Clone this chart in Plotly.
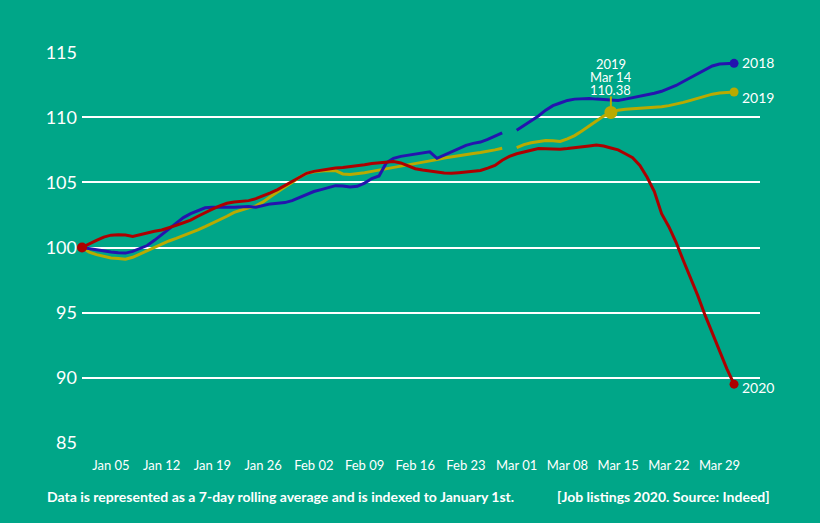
import pandas as pd
import plotly.graph_objects as go

# daily index values, Jan 01 .. Mar 31 (None = Feb 29 missing in non-leap years)
dates = pd.date_range("2020-01-01", "2020-03-31", freq="D")

series_2018 = [
    100.0, 99.9, 99.8, 99.7, 99.65, 99.6, 99.57, 99.7, 99.9, 100.15,
    100.55, 101.0, 101.4, 101.85, 102.3, 102.6, 102.85, 103.05, 103.1, 103.12,
    103.1, 103.1, 103.15, 103.15, 103.1, 103.25, 103.35, 103.4, 103.45, 103.6,
    103.85, 104.1, 104.3, 104.45, 104.6, 104.75, 104.72, 104.65, 104.7, 104.95,
    105.3, 105.5, 106.5, 106.85, 107.0, 107.1, 107.2, 107.3, 107.35, 106.85,
    107.1, 107.3, 107.6, 107.85, 108.0, 108.1, 108.3, 108.55, 108.8, None,
    109.0, 109.35, 109.7, 110.1, 110.55, 110.9, 111.1, 111.3, 111.4, 111.45,
    111.45, 111.4, 111.35, 111.3, 111.3, 111.4, 111.5, 111.6, 111.7, 111.85,
    112.0, 112.2, 112.45, 112.75, 113.05, 113.4, 113.7, 113.95, 114.1, 114.15,
    114.15,
]

series_2019 = [
    100.0, 99.65, 99.45, 99.3, 99.2, 99.15, 99.1, 99.25, 99.5, 99.8,
    100.05, 100.3, 100.5, 100.7, 100.9, 101.1, 101.35, 101.6, 101.85, 102.1,
    102.4, 102.7, 102.9, 103.05, 103.2, 103.5, 103.9, 104.3, 104.65, 105.0,
    105.4, 105.7, 105.82, 105.88, 105.92, 105.9, 105.65, 105.6, 105.65, 105.75,
    105.85, 105.95, 106.05, 106.12, 106.2, 106.32, 106.42, 106.55, 106.65, 106.75,
    106.87, 106.97, 107.05, 107.15, 107.22, 107.3, 107.38, 107.5, 107.62, None,
    107.67, 107.9, 108.05, 108.15, 108.22, 108.2, 108.15, 108.35, 108.6, 108.95,
    109.35, 109.75, 110.1, 110.38, 110.55, 110.62, 110.65, 110.7, 110.72, 110.77,
    110.82, 110.9, 111.0, 111.15, 111.3, 111.48, 111.65, 111.78, 111.87, 111.92,
    111.95,
]

series_2020 = [
    100.0, 100.3, 100.55, 100.8, 100.95, 100.97, 100.96, 100.85, 101.0, 101.15,
    101.25, 101.35, 101.5, 101.7, 101.9, 102.1, 102.4, 102.7, 102.95, 103.2,
    103.4, 103.5, 103.55, 103.6, 103.75, 103.95, 104.2, 104.45, 104.75, 105.05,
    105.4, 105.7, 105.85, 105.95, 106.05, 106.1, 106.15, 106.2, 106.25, 106.35,
    106.45, 106.5, 106.55, 106.6, 106.5, 106.25, 106.05, 105.95, 105.9, 105.8,
    105.72, 105.7, 105.75, 105.8, 105.85, 105.92, 106.1, 106.3, 106.7, 107.0,
    107.2, 107.35, 107.5, 107.6, 107.58, 107.55, 107.55, 107.6, 107.65, 107.7,
    107.8, 107.87, 107.8, 107.65, 107.5, 107.2, 106.9, 106.3, 105.4, 104.3,
    102.6, 101.6, 100.4, 99.0, 97.7, 96.3, 94.8, 93.4, 92.0, 90.7,
    89.5,
]

tick_dates = ["2020-01-05", "2020-01-12", "2020-01-19", "2020-01-26", "2020-02-02",
              "2020-02-09", "2020-02-16", "2020-02-23", "2020-03-01", "2020-03-08",
              "2020-03-15", "2020-03-22", "2020-03-29"]
y_ticks = [85, 90, 95, 100, 105, 110, 115]

highlight_date = "2020-03-14"
highlight_idx = list(dates).index(pd.Timestamp(highlight_date))

BG = "#00A688"
COLORS = {"2018": "#2414AE", "2019": "#B9AA00", "2020": "#AD0000"}
FONT = "Lato, 'Open Sans', sans-serif"
LABEL_SHIFT = {"2018": 1, "2019": -6, "2020": -3}

fig = go.Figure()

# draw order: 2019, 2018, 2020 (red on top)
for name, vals in [("2019", series_2019), ("2018", series_2018), ("2020", series_2020)]:
    fig.add_trace(go.Scatter(
        x=dates, y=vals, mode="lines", name=name,
        line=dict(color=COLORS[name], width=3),
        connectgaps=False, cliponaxis=False, hoverinfo="skip",
    ))
    # end marker
    fig.add_trace(go.Scatter(
        x=[dates[-1]], y=[vals[-1]], mode="markers",
        marker=dict(color=COLORS[name], size=9), cliponaxis=False, hoverinfo="skip",
    ))
    fig.add_annotation(
        x=dates[-1], y=vals[-1], text=name, showarrow=False,
        xanchor="left", xshift=6, yshift=LABEL_SHIFT[name],
        font=dict(family=FONT, size=14, color="white"),
    )

# start point
fig.add_trace(go.Scatter(
    x=[dates[0]], y=[series_2020[0]], mode="markers",
    marker=dict(color=COLORS["2020"], size=10), cliponaxis=False, hoverinfo="skip",
))

# highlighted 2019 point
hv = series_2019[highlight_idx]
fig.add_shape(
    type="line", xref="x", yref="y", xsizemode="scaled", ysizemode="pixel",
    x0=highlight_date, x1=highlight_date, yanchor=hv, y0=0, y1=16,
    line=dict(color=COLORS["2019"], width=2),
)
fig.add_trace(go.Scatter(
    x=[highlight_date], y=[hv], mode="markers",
    marker=dict(color=COLORS["2019"], size=13), cliponaxis=False, hoverinfo="skip",
))
for txt, shift in [("2019", 49), ("Mar 14", 36), (f"{hv:.2f}", 23)]:
    fig.add_annotation(
        x=highlight_date, y=hv, text=txt, showarrow=False,
        yanchor="middle", yshift=shift, height=11,
        font=dict(family=FONT, size=13, color="white"),
    )

# footer
fig.add_annotation(
    xref="paper", yref="paper", x=-0.055, y=-0.138, xanchor="left", yanchor="middle",
    text="<b>Data is represented as a 7-day rolling average and is indexed to January 1st.</b>",
    showarrow=False, font=dict(family=FONT, size=14, color="white"),
)
fig.add_annotation(
    xref="paper", yref="paper", x=1.018, y=-0.138, xanchor="right", yanchor="middle",
    text="<b>[Job listings 2020. Source: Indeed]</b>",
    showarrow=False, font=dict(family=FONT, size=14, color="white"),
)

fig.update_layout(
    width=820, height=523,
    paper_bgcolor=BG, plot_bgcolor=BG,
    margin=dict(l=82, r=60, t=52, b=80),
    showlegend=False,
    font=dict(family=FONT, color="white"),
    xaxis=dict(
        type="date", range=["2020-01-01", "2020-04-03 14:00"],
        tickvals=tick_dates, tickformat="%b %d",
        showgrid=False, zeroline=False, showline=False,
        ticks="outside", ticklen=10, tickcolor=BG,
        tickfont=dict(family=FONT, size=13, color="white"),
    ),
    yaxis=dict(
        range=[84.98, 115.02], tickvals=y_ticks,
        showgrid=True, gridcolor="white", gridwidth=2,
        zeroline=False, showline=False, ticks="", ticklabelstandoff=4,
        tickfont=dict(family=FONT, size=18, color="white"),
    ),
)

fig.write_html("out.html", config={"displayModeBar": False},
               post_script="document.body.style.margin='0';")
